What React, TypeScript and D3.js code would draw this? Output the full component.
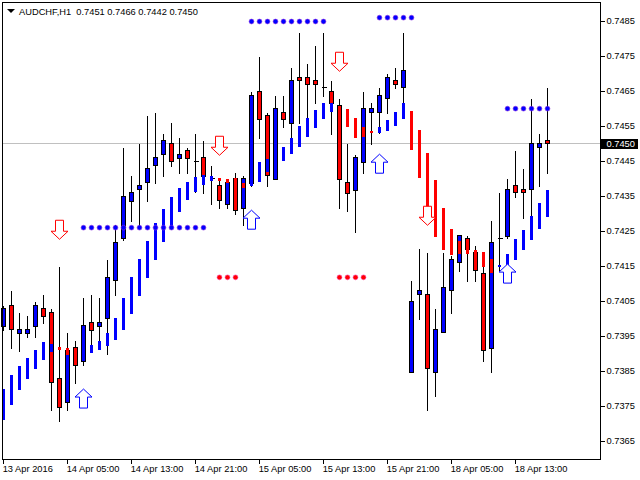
import React, { useEffect, useRef } from 'react';
import * as d3 from 'd3';

const W = 640;
const H = 480;

const opens = [
  0.73979, 0.74039, 0.73959, 0.73959, 0.73979, 0.74030, 0.74019, 0.73830, 0.73761, 0.73919,
  0.73879, 0.73990, 0.73979, 0.74001, 0.74110, 0.74230, 0.74336, 0.74370, 0.74390, 0.74439,
  0.74470, 0.74501, 0.74459, 0.74481, 0.74450, 0.74461, 0.74401, 0.74381, 0.74327, 0.74401,
  0.74316, 0.74387, 0.74650, 0.74581, 0.74399, 0.74590, 0.74559, 0.74690, 0.74690, 0.74681,
  0.74661, 0.74650, 0.74610, 0.74390, 0.74367, 0.74447, 0.74590, 0.74590, 0.74630, 0.74681,
  0.74661, 0.73847, 0.74070, 0.74070, 0.73847, 0.73961, 0.74081, 0.74161, 0.74230, 0.74190,
  0.74130, 0.73916, 0.74230, 0.74236, 0.74381, 0.74370, 0.74370, 0.74490, 0.74510,
];
const highs = [
  0.74039, 0.74081, 0.74019, 0.74010, 0.74050, 0.74070, 0.74030, 0.74150, 0.73961, 0.73939,
  0.74061, 0.74070, 0.74061, 0.74170, 0.74270, 0.74490, 0.74410, 0.74501, 0.74581, 0.74590,
  0.74530, 0.74561, 0.74519, 0.74490, 0.74530, 0.74510, 0.74439, 0.74401, 0.74401, 0.74419,
  0.74410, 0.74650, 0.74750, 0.74590, 0.74639, 0.74639, 0.74719, 0.74819, 0.74730, 0.74781,
  0.74819, 0.74681, 0.74630, 0.74501, 0.74470, 0.74650, 0.74619, 0.74661, 0.74701, 0.74719,
  0.74819, 0.74110, 0.74201, 0.74190, 0.74030, 0.74190, 0.74181, 0.74239, 0.74239, 0.74210,
  0.74190, 0.74281, 0.74361, 0.74401, 0.74481, 0.74430, 0.74630, 0.74530, 0.74661,
];
const lows = [
  0.73967, 0.73916, 0.73907, 0.73947, 0.73947, 0.73987, 0.73739, 0.73707, 0.73739, 0.73816,
  0.73867, 0.73927, 0.73936, 0.73899, 0.74067, 0.74224, 0.74279, 0.74261, 0.74336, 0.74387,
  0.74407, 0.74436, 0.74416, 0.74416, 0.74361, 0.74359, 0.74327, 0.74316, 0.74316, 0.74299,
  0.74267, 0.74379, 0.74516, 0.74379, 0.74399, 0.74547, 0.74481, 0.74559, 0.74573, 0.74616,
  0.74636, 0.74527, 0.74316, 0.74307, 0.74247, 0.74416, 0.74499, 0.74530, 0.74587, 0.74659,
  0.74616, 0.73847, 0.73999, 0.73739, 0.73779, 0.73961, 0.74016, 0.74136, 0.74107, 0.74107,
  0.73879, 0.73847, 0.74139, 0.74230, 0.74347, 0.74287, 0.74293, 0.74379, 0.74416,
];
const closes = [
  0.74030, 0.73970, 0.73970, 0.73970, 0.74039, 0.74007, 0.73819, 0.73747, 0.73910, 0.73867,
  0.73981, 0.73967, 0.73990, 0.74119, 0.74219, 0.74350, 0.74361, 0.74381, 0.74430, 0.74461,
  0.74510, 0.74450, 0.74470, 0.74459, 0.74450, 0.74407, 0.74401, 0.74339, 0.74390, 0.74310,
  0.74401, 0.74639, 0.74570, 0.74410, 0.74601, 0.74570, 0.74681, 0.74681, 0.74670, 0.74670,
  0.74661, 0.74616, 0.74399, 0.74359, 0.74461, 0.74601, 0.74601, 0.74639, 0.74690, 0.74670,
  0.74710, 0.74050, 0.74081, 0.73859, 0.73970, 0.74090, 0.74170, 0.74239, 0.74199, 0.74139,
  0.73910, 0.74219, 0.74230, 0.74370, 0.74361, 0.74361, 0.74501, 0.74501, 0.74501,
];

// trend histogram on top of the candles, one bar per candle
const bandTops = [
  0.73799, 0.73839, 0.73864, 0.73887, 0.73910, 0.73933, 0.73927, 0.73919, 0.73916, 0.73910,
  0.73924, 0.73924, 0.73936, 0.73959, 0.74001, 0.74059, 0.74119, 0.74170, 0.74221, 0.74273,
  0.74313, 0.74347, 0.74373, 0.74390, 0.74404, 0.74410, 0.74407, 0.74401, 0.74399, 0.74401,
  0.74387, 0.74396, 0.74447, 0.74456, 0.74481, 0.74490, 0.74516, 0.74550, 0.74573, 0.74596,
  0.74616, 0.74616, 0.74599, 0.74599, 0.74573, 0.74547, 0.74535, 0.74547, 0.74567, 0.74590,
  0.74616, 0.74593, 0.74539, 0.74473, 0.74396, 0.74316, 0.74256, 0.74221, 0.74207, 0.74196,
  0.74190, 0.74170, 0.74153, 0.74184, 0.74227, 0.74253, 0.74293, 0.74330, 0.74367,
];
const bandBottoms = [
  0.73710, 0.73753, 0.73796, 0.73827, 0.73856, 0.73881, 0.73904, 0.73910, 0.73896, 0.73881,
  0.73881, 0.73901, 0.73910, 0.73921, 0.73939, 0.73967, 0.74013, 0.74064, 0.74116, 0.74167,
  0.74219, 0.74261, 0.74304, 0.74339, 0.74361, 0.74381, 0.74393, 0.74393, 0.74387, 0.74367,
  0.74373, 0.74379, 0.74390, 0.74419, 0.74439, 0.74450, 0.74470, 0.74490, 0.74519, 0.74544,
  0.74570, 0.74590, 0.74553, 0.74547, 0.74516, 0.74519, 0.74530, 0.74530, 0.74536, 0.74550,
  0.74570, 0.74481, 0.74401, 0.74319, 0.74233, 0.74196, 0.74181, 0.74184, 0.74184, 0.74161,
  0.74147, 0.74130, 0.74147, 0.74153, 0.74167, 0.74196, 0.74224, 0.74256, 0.74290,
];
const redBandIdx = [7, 8, 9, 27, 28, 29, 30, 42, 43, 44, 45, 46, 51, 52, 53, 54, 55, 56, 57, 58, 59, 60, 61];

const blueDotRuns = [
  { from: 10, to: 25, price: 0.74261 },
  { from: 31, to: 40, price: 0.7485 },
  { from: 47, to: 51, price: 0.74861 },
  { from: 63, to: 68, price: 0.74601 },
];
const redDotRuns = [
  { from: 27, to: 29, price: 0.74119 },
  { from: 42, to: 45, price: 0.74119 },
];

const downArrows = [
  { idx: 7, price: 0.74227 },
  { idx: 27, price: 0.74467 },
  { idx: 42, price: 0.74707 },
  { idx: 53, price: 0.74267 },
];
const upArrows = [
  { idx: 10, price: 0.73799 },
  { idx: 31, price: 0.7431 },
  { idx: 47, price: 0.7447 },
  { idx: 63, price: 0.74156 },
];

const priceTicks = d3.range(0, 13).map(i => 0.7365 + i * 0.001);
const timeTicks = [0, 8, 16, 24, 32, 40, 48, 56, 64];
const timeLabels = [
  '13 Apr 2016', '14 Apr 05:00', '14 Apr 13:00', '14 Apr 21:00', '15 Apr 05:00',
  '15 Apr 13:00', '15 Apr 21:00', '18 Apr 05:00', '18 Apr 13:00',
];
const lastPrice = 0.745;
const header = 'AUDCHF,H1  0.7451 0.7466 0.7442 0.7450';

const FONT = '"Liberation Sans", sans-serif';

export default function App() {
  const svgRef = useRef<SVGSVGElement>(null);

  useEffect(() => {
    if (!svgRef.current) return;
    const svg = d3.select(svgRef.current);
    svg.selectAll('*').remove();

    const x = d3.scaleLinear().domain([0, 68]).range([3.5, 547.5]);
    const y = d3.scaleLinear().domain([0.7365, 0.7485]).range([441.2, 21.2]);
    const snap = (p: number) => Math.floor(y(p)) + 0.5;

    svg.append('rect').attr('width', W).attr('height', H).attr('fill', '#fff');

    // last price line sits under the candles
    svg.append('line')
      .attr('x1', 3).attr('x2', 600)
      .attr('y1', snap(lastPrice)).attr('y2', snap(lastPrice))
      .attr('stroke', '#c0c0c0').attr('shape-rendering', 'crispEdges');

    const candles = svg.append('g').attr('shape-rendering', 'crispEdges');
    opens.forEach((o, i) => {
      const c = closes[i];
      const cx = x(i);
      candles.append('line')
        .attr('x1', cx).attr('x2', cx)
        .attr('y1', snap(highs[i])).attr('y2', snap(lows[i]) + 0.5)
        .attr('stroke', '#000');
      if (o === c) {
        candles.append('line')
          .attr('x1', cx - 2).attr('x2', cx + 3)
          .attr('y1', snap(o)).attr('y2', snap(o))
          .attr('stroke', '#000');
      } else {
        const top = snap(Math.max(o, c));
        const bottom = snap(Math.min(o, c));
        candles.append('rect')
          .attr('x', cx - 2).attr('width', 4)
          .attr('y', top).attr('height', bottom - top)
          .attr('fill', c > o ? '#0000ff' : '#ff0000')
          .attr('stroke', '#000');
      }
    });

    const bands = svg.append('g').attr('shape-rendering', 'crispEdges');
    bandTops.forEach((t, i) => {
      bands.append('rect')
        .attr('x', x(i) - 1.5).attr('width', 3)
        .attr('y', Math.floor(y(t))).attr('height', Math.max(1, y(bandBottoms[i]) - y(t)))
        .attr('fill', redBandIdx.includes(i) ? '#ff0000' : '#0000ff');
    });

    const drawDots = (runs: typeof blueDotRuns, fill: string, edge: string) => {
      const g = svg.append('g');
      runs.forEach(run => {
        d3.range(run.from, run.to + 1).forEach(i => {
          g.append('circle')
            .attr('cx', x(i)).attr('cy', y(run.price) + 0.3).attr('r', 2.4)
            .attr('fill', fill).attr('stroke', edge).attr('stroke-width', 0.6);
        });
      });
    };
    drawDots(blueDotRuns, '#0000ff', '#8a2be2');
    drawDots(redDotRuns, '#ff0000', '#ff3399');

    // hollow signal arrows, price is the tip
    const arrowPath = 'M0,0L-8.5,-8L-4,-8L-4,-19L4,-19L4,-8L8.5,-8Z';
    downArrows.forEach(a => {
      svg.append('path')
        .attr('d', arrowPath)
        .attr('transform', `translate(${x(a.idx)},${y(a.price)})`)
        .attr('fill', '#fff').attr('stroke', '#ff0000').attr('stroke-width', 1);
    });
    upArrows.forEach(a => {
      svg.append('path')
        .attr('d', arrowPath)
        .attr('transform', `translate(${x(a.idx)},${y(a.price)}) scale(1,-1)`)
        .attr('fill', '#fff').attr('stroke', '#0000ff').attr('stroke-width', 1);
    });

    // frame
    svg.append('rect')
      .attr('x', 2.5).attr('y', 2.5).attr('width', 598).attr('height', 457)
      .attr('fill', 'none').attr('stroke', '#000').attr('shape-rendering', 'crispEdges');

    // price axis
    const yAxis = d3.axisRight(y)
      .tickValues(priceTicks)
      .tickSize(4)
      .tickPadding(2)
      .offset(0.3)
      .tickFormat(d3.format('.4f') as any);
    const yG = svg.append('g').attr('transform', 'translate(600.5,0)').call(yAxis);
    yG.select('.domain').remove();
    yG.selectAll('line').attr('stroke', '#000').attr('shape-rendering', 'crispEdges');
    yG.selectAll('text')
      .attr('fill', '#000').attr('font-family', FONT).attr('font-size', 9.3);

    // time axis
    const xAxis = d3.axisBottom(x)
      .tickValues(timeTicks)
      .tickSize(4)
      .tickPadding(2)
      .offset(0)
      .tickFormat((_, i) => timeLabels[i]);
    const xG = svg.append('g').attr('transform', 'translate(0,459.5)').call(xAxis);
    xG.select('.domain').remove();
    xG.selectAll('line').attr('stroke', '#000').attr('shape-rendering', 'crispEdges');
    xG.selectAll('text')
      .attr('fill', '#000').attr('font-family', FONT).attr('font-size', 9.3)
      .attr('text-anchor', 'start').attr('dx', '-0.8');

    // last price label
    svg.append('rect')
      .attr('x', 601).attr('y', snap(lastPrice) - 5).attr('width', 37).attr('height', 10)
      .attr('fill', '#000').attr('shape-rendering', 'crispEdges');
    svg.append('text')
      .attr('x', 606.5).attr('y', snap(lastPrice) + 3.5)
      .attr('fill', '#fff').attr('font-family', FONT).attr('font-size', 9.3)
      .text(d3.format('.4f')(lastPrice));

    // header
    svg.append('path').attr('d', 'M7,9L15,9L11,13Z').attr('fill', '#000');
    svg.append('text')
      .attr('x', 19).attr('y', 14.5)
      .attr('fill', '#000').attr('font-family', FONT).attr('font-size', 9.3)
      .attr('xml:space', 'preserve').style('white-space', 'pre')
      .text(header);
  }, []);

  return (
    <svg
      ref={svgRef}
      width={W}
      height={H}
      style={{ position: 'fixed', left: 0, top: 0, display: 'block' }}
    />
  );
}
